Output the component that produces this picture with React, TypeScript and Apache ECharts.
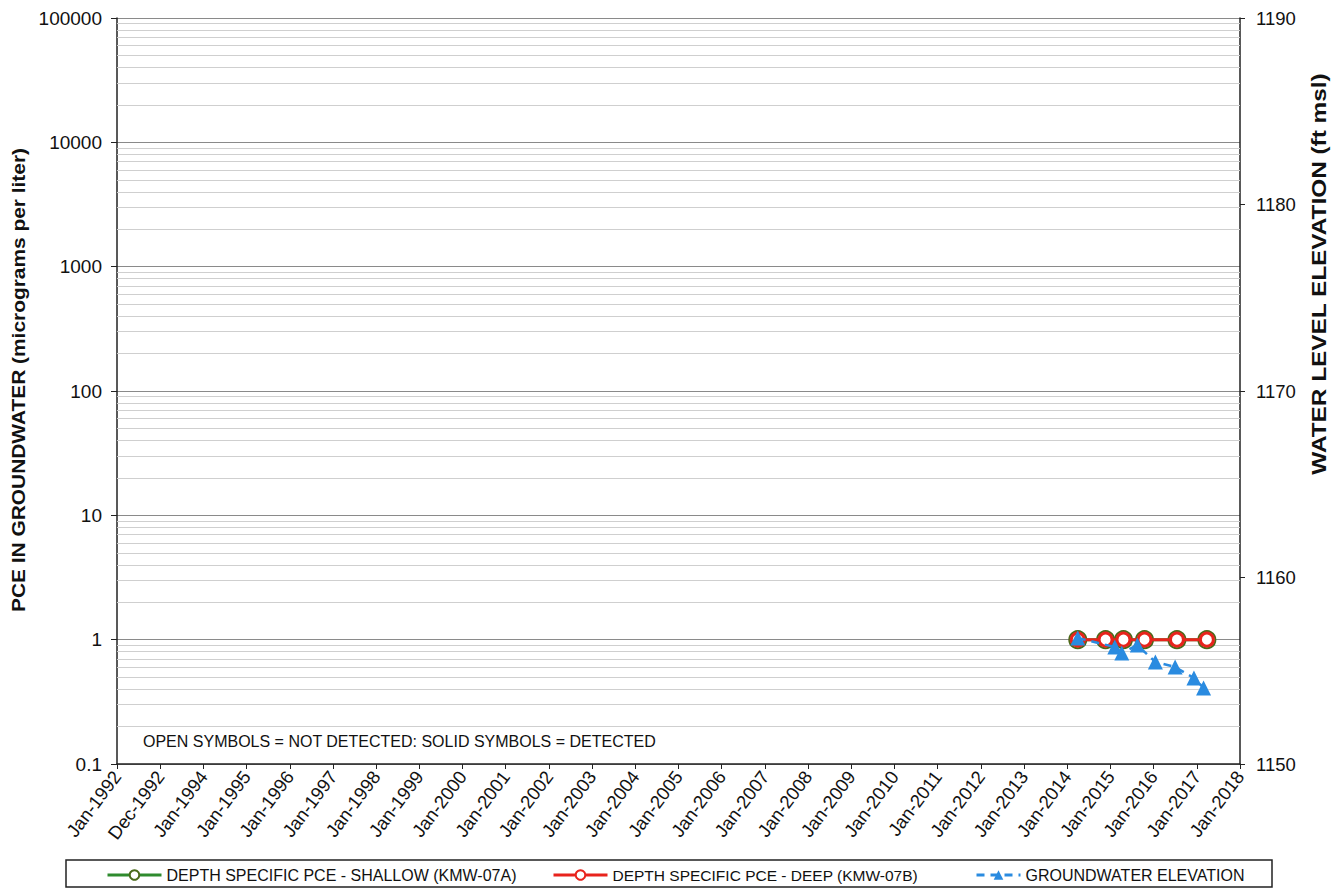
import React, { useEffect, useRef } from "react";
import * as echarts from "echarts";

const X_TICK_LABELS = [
  "Jan-1992", "Dec-1992", "Jan-1994", "Jan-1995", "Jan-1996", "Jan-1997", "Jan-1998",
  "Jan-1999", "Jan-2000", "Jan-2001", "Jan-2002", "Jan-2003", "Jan-2004", "Jan-2005",
  "Jan-2006", "Jan-2007", "Jan-2008", "Jan-2009", "Jan-2010", "Jan-2011", "Jan-2012",
  "Jan-2013", "Jan-2014", "Jan-2015", "Jan-2016", "Jan-2017", "Jan-2018",
];
const LEFT_TICK_LABELS = ["0.1", "1", "10", "100", "1000", "10000", "100000"];
const RIGHT_TICK_LABELS = ["1150", "1160", "1170", "1180", "1190"];

const PCE_DATES = ["2014-03-25", "2014-11-15", "2015-04-15", "2015-10-10", "2016-07-10", "2017-03-20"];
const SHALLOW_PCE = [1, 1, 1, 1, 1, 1];
const DEEP_PCE = [1, 1, 1, 1, 1, 1];

const GW_DATES = ["2014-03-25", "2015-02-01", "2015-04-01", "2015-08-10", "2016-01-10", "2016-06-25", "2016-12-01", "2017-02-20"];
const GW_ELEV = [1156.76, 1156.27, 1155.95, 1156.38, 1155.47, 1155.2, 1154.61, 1154.08];

const LEFT_TITLE = "PCE IN GROUNDWATER (micrograms per liter)";
const RIGHT_TITLE = "WATER LEVEL ELEVATION (ft msl)";
const NOTE = "OPEN SYMBOLS = NOT DETECTED: SOLID SYMBOLS = DETECTED";

const DAY_MS = 86400000;
const ORIGIN = Date.UTC(1992, 0, 1);
const toDay = (s: string) => {
  const [y, m, d] = s.split("-").map(Number);
  return (Date.UTC(y, m - 1, d) - ORIGIN) / DAY_MS;
};
const X_INTERVAL = 365;

const FONT = "'Liberation Sans', Arial, sans-serif";

export default function App() {
  const ref = useRef<HTMLDivElement>(null);
  useEffect(() => {
    document.body.style.margin = "0";
    if (!ref.current) return;
    const chart = echarts.init(ref.current, undefined, { renderer: "svg" });

    const minorLines: { yAxis: number }[] = [];
    for (let e = -1; e < 5; e++) {
      for (let k = 2; k <= 9; k++) minorLines.push({ yAxis: k * Math.pow(10, e) });
    }

    const legendCommon = {
      top: 862,
      itemWidth: 54,
      itemHeight: 12,
      itemGap: 4,
      lineStyle: { width: 3 },
      textStyle: { fontFamily: FONT, fontSize: 16, color: "#111" },
    };

    chart.setOption({
      animation: false,
      textStyle: { fontFamily: FONT },
      grid: { left: 117, right: 101, top: 18, bottom: 126 },
      xAxis: {
        type: "value",
        min: 0,
        max: X_INTERVAL * (X_TICK_LABELS.length - 1),
        interval: X_INTERVAL,
        axisLine: { show: true, lineStyle: { color: "#222", width: 1.5 } },
        axisTick: { show: true, inside: false, length: 5, lineStyle: { color: "#222" } },
        splitLine: { show: false },
        axisLabel: {
          rotate: 53,
          margin: 9,
          fontSize: 18.5,
          color: "#111",
          fontFamily: FONT,
          formatter: (v: number) => X_TICK_LABELS[Math.round(v / X_INTERVAL)] ?? "",
        },
      },
      yAxis: [
        {
          type: "log",
          logBase: 10,
          min: 0.1,
          max: 100000,
          position: "left",
          axisLine: { show: true, lineStyle: { color: "#222", width: 1.5 } },
          axisTick: { show: true, length: 6, lineStyle: { color: "#222" } },
          splitLine: { show: true, lineStyle: { color: "#8a8a8a", width: 1.2 } },
          axisLabel: {
            fontSize: 19,
            color: "#111",
            margin: 15,
            fontFamily: FONT,
            formatter: (v: number) => LEFT_TICK_LABELS[Math.round(Math.log10(v)) + 1] ?? "",
          },
        },
        {
          type: "value",
          min: 1150,
          max: 1190,
          interval: 10,
          position: "right",
          axisLine: { show: true, lineStyle: { color: "#222", width: 1.5 } },
          axisTick: { show: true, length: 5, lineStyle: { color: "#222" } },
          splitLine: { show: false },
          axisLabel: {
            fontSize: 18.5,
            color: "#111",
            margin: 16,
            fontFamily: FONT,
            formatter: (v: number) => RIGHT_TICK_LABELS[Math.round((v - 1150) / 10)] ?? "",
          },
        },
      ],
      legend: [
        { ...legendCommon, left: 101, data: ["DEPTH SPECIFIC PCE - SHALLOW (KMW-07A)"] },
        { ...legendCommon, left: 547, textStyle: { ...legendCommon.textStyle, fontSize: 15.5 }, data: ["DEPTH SPECIFIC PCE - DEEP (KMW-07B)"] },
        { ...legendCommon, left: 970, itemWidth: 44, data: ["GROUNDWATER ELEVATION"] },
      ],
      graphic: [
        {
          type: "rect",
          shape: { x: 66, y: 860, width: 1206, height: 27 },
          style: { fill: "none", stroke: "#222", lineWidth: 1.5 },
          silent: true,
        },
        {
          type: "text",
          left: 143,
          top: 733,
          style: { text: NOTE, fontFamily: FONT, fontSize: 16, fill: "#111" },
          silent: true,
        },
        {
          type: "text",
          x: 18,
          y: 380,
          rotation: Math.PI / 2,
          scaleX: 1.1,
          style: {
            text: LEFT_TITLE,
            fontFamily: FONT,
            fontSize: 19,
            fontWeight: "bold",
            fill: "#111",
            align: "center",
            verticalAlign: "middle",
          },
          silent: true,
        },
        {
          type: "text",
          x: 1319,
          y: 274,
          rotation: Math.PI / 2,
          scaleX: 1.16,
          style: {
            text: RIGHT_TITLE,
            fontFamily: FONT,
            fontSize: 21,
            fontWeight: "bold",
            fill: "#111",
            align: "center",
            verticalAlign: "middle",
          },
          silent: true,
        },
      ],
      series: [
        {
          name: "DEPTH SPECIFIC PCE - SHALLOW (KMW-07A)",
          type: "line",
          yAxisIndex: 0,
          data: PCE_DATES.map((d, i) => [toDay(d), SHALLOW_PCE[i]]),
          symbol: "circle",
          symbolSize: 17,
          showAllSymbol: true,
          lineStyle: { color: "#2e8b2e", width: 3 },
          itemStyle: { color: "#ffffff", borderColor: "#4a6a1a", borderWidth: 2 },
          z: 3,
          markLine: {
            silent: true,
            symbol: "none",
            label: { show: false },
            lineStyle: { color: "#cfcfcf", width: 1, type: "solid" },
            data: minorLines,
            z: 1,
          },
        },
        {
          name: "DEPTH SPECIFIC PCE - DEEP (KMW-07B)",
          type: "line",
          yAxisIndex: 0,
          data: PCE_DATES.map((d, i) => [toDay(d), DEEP_PCE[i]]),
          symbol: "circle",
          symbolSize: 13,
          showAllSymbol: true,
          lineStyle: { color: "#e8231c", width: 3 },
          itemStyle: { color: "#ffffff", borderColor: "#e8231c", borderWidth: 3 },
          z: 4,
        },
        {
          name: "GROUNDWATER ELEVATION",
          type: "line",
          yAxisIndex: 1,
          data: GW_DATES.map((d, i) => [toDay(d), GW_ELEV[i]]),
          symbol: "triangle",
          symbolSize: 15,
          showAllSymbol: true,
          lineStyle: { color: "#2a8be0", width: 2.5, type: [8, 6] },
          itemStyle: { color: "#2a8be0" },
          z: 5,
        },
      ],
    });
    return () => chart.dispose();
  }, []);
  return <div ref={ref} style={{ width: 1341, height: 890 }} />;
}
